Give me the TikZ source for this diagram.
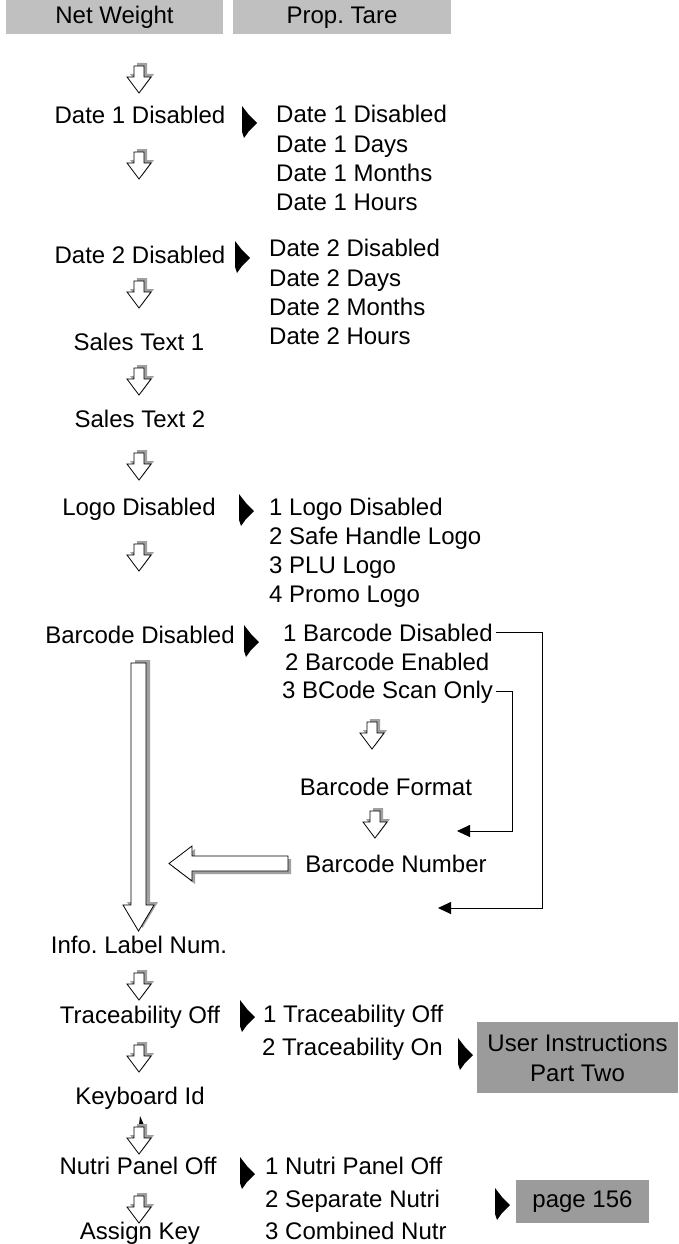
\documentclass[tikz,border=0pt]{standalone}
\usepackage{fontspec}
\setmainfont{Liberation Sans}
\usetikzlibrary{arrows.meta}
\frenchspacing
\newcommand{\lblfont}{\fontsize{24}{30}\selectfont}
\definecolor{lightbox}{HTML}{C0C0C0}
\definecolor{darkbox}{HTML}{9B9B9B}
\definecolor{shadowgrey}{HTML}{A0A0A0}
\tikzset{
  lbl/.style={font=\lblfont, inner sep=0pt, anchor=base},
  opt/.style={font=\lblfont, inner sep=0pt, anchor=base west},
  tbox/.style={font=\lblfont, inner sep=0pt, fill=lightbox, text height=17.5pt, text depth=5pt},
  gbox/.style={font=\lblfont, inner sep=0pt, fill=darkbox, align=center},
  conn/.style={line width=0.9pt, shorten <=3pt, -{Triangle[length=13pt,width=12pt]}},
  hollow/.style={fill=white, draw=black, line width=0.8pt, line join=miter},
  downarr/.pic={
    \fill[shadowgrey, shift={(3,-3)}] (-5,0) -- (5,0) -- (5,11) -- (12,11) -- (0,27) -- (-12,11) -- (-5,11) -- cycle;
    \path[hollow] (-5,0) -- (5,0) -- (5,11) -- (12,11) -- (0,27) -- (-12,11) -- (-5,11) -- cycle;
  },
  ptr/.pic={\fill[black] (-7,-16) -- (0,-7) -- (8,1) -- (0,9) -- (-5,16) -- (-7,10) -- cycle;}
}
\begin{document}
\begin{tikzpicture}[x=1pt,y=-1pt]
\useasboundingbox (0,0) rectangle (678,1244);
% top boxes
\node[tbox, minimum width=217pt, minimum height=34pt] (nw) at (114.5,17) {Net Weight};
\node[tbox, minimum width=218pt, minimum height=34pt] (pt) at (342,17) {Prop. Tare};
% date 1
\pic at (139,66) {downarr};
\node[lbl] (d1) at (140,124) {Date 1 Disabled};
\pic at (249,122) {ptr};
\node[opt] (d1a) at (276,123) {Date 1 Disabled};
\node[opt] (d1b) at (276,152) {Date 1 Days};
\node[opt] (d1c) at (276,181) {Date 1 Months};
\node[opt] (d1d) at (276,210) {Date 1 Hours};
\pic at (139,152) {downarr};
% date 2
\node[lbl] (d2) at (140,263) {Date 2 Disabled};
\pic at (242,257) {ptr};
\node[opt] (d2a) at (269,256) {Date 2 Disabled};
\node[opt] (d2b) at (269,286) {Date 2 Days};
\node[opt] (d2c) at (269,315) {Date 2 Months};
\node[opt] (d2d) at (269,344) {Date 2 Hours};
\pic at (139,281) {downarr};
\node[lbl] (s1) at (139,350) {Sales Text 1};
\pic at (139,368) {downarr};
\node[lbl] (s2) at (140,427) {Sales Text 2};
\pic at (139,453) {downarr};
% logo
\node[lbl] (lg) at (139,515) {Logo Disabled};
\pic at (246,510) {ptr};
\node[opt] (lg1) at (269,515) {1 Logo Disabled};
\node[opt] (lg2) at (269,544) {2 Safe Handle Logo};
\node[opt] (lg3) at (269,573) {3 PLU Logo};
\node[opt] (lg4) at (269,602) {4 Promo Logo};
\pic at (139,544) {downarr};
% barcode
\node[lbl] (bc) at (140,643) {Barcode Disabled};
\pic at (251,641) {ptr};
\node[opt] (b1) at (283,641) {1 Barcode Disabled};
\node[opt] (b2) at (285,670) {2 Barcode Enabled};
\node[opt] (b3) at (282,698) {3 BCode Scan Only};
\pic at (372,722) {downarr};
\node[lbl] (bf) at (386,795) {Barcode Format};
\pic at (375,811) {downarr};
\node[lbl] (bn) at (396,872) {Barcode Number};
\coordinate (tipA) at (457,831);
\coordinate (tipB) at (438,908);
\coordinate (cA) at (512,0);
\coordinate (cB) at (542,0);
\draw[conn] (b1.east) -- (b1.east -| cB) -- (cB |- tipB) -- (tipB);
\draw[conn] (b3.east) -- (b3.east -| cA) -- (cA |- tipA) -- (tipA);
% big vertical arrow
\fill[shadowgrey, shift={(4,-3)}] (131,663) -- (146,663) -- (146,905) -- (154,905) -- (138.5,931) -- (123,905) -- (131,905) -- cycle;
\path[hollow] (131,663) -- (146,663) -- (146,905) -- (154,905) -- (138.5,931) -- (123,905) -- (131,905) -- cycle;
% big left arrow
\fill[shadowgrey, shift={(3,3)}] (288,856) -- (288,871) -- (192,871) -- (192,881) -- (169,863.5) -- (192,846) -- (192,856) -- cycle;
\path[hollow] (288,856) -- (288,871) -- (192,871) -- (192,881) -- (169,863.5) -- (192,846) -- (192,856) -- cycle;
% lower part
\node[lbl] (il) at (139,953) {Info. Label Num.};
\pic at (139,973) {downarr};
\node[lbl] (tr) at (140,1023) {Traceability Off};
\pic at (247,1016) {ptr};
\node[opt] (tr1) at (263,1022) {1 Traceability Off};
\node[opt] (tr2) at (262,1055) {2 Traceability On};
\pic at (465,1054) {ptr};
\node[gbox, minimum width=201pt, minimum height=71pt] (ui) at (577.5,1057.5) {User Instructions\\Part Two};
\pic at (139,1045) {downarr};
\node[lbl] (kb) at (140,1104) {Keyboard Id};
\fill (139,1125) -- (140,1116) -- (144,1125) -- cycle;
\pic at (139,1127) {downarr};
\node[lbl] (np) at (138,1174) {Nutri Panel Off};
\pic at (247,1173) {ptr};
\node[opt] (n1) at (265,1174) {1 Nutri Panel Off};
\node[opt] (n2) at (265,1207) {2 Separate Nutri};
\node[opt] (n3) at (265,1239) {3 Combined Nutr};
\pic at (502,1204) {ptr};
\node[gbox, minimum width=133pt, minimum height=43pt, text height=17.5pt, text depth=5pt] (pg) at (582.5,1201.5) {page 156};
\pic at (139,1196) {downarr};
\node[lbl] (ak) at (140,1239) {Assign Key};
\end{tikzpicture}
\end{document}
